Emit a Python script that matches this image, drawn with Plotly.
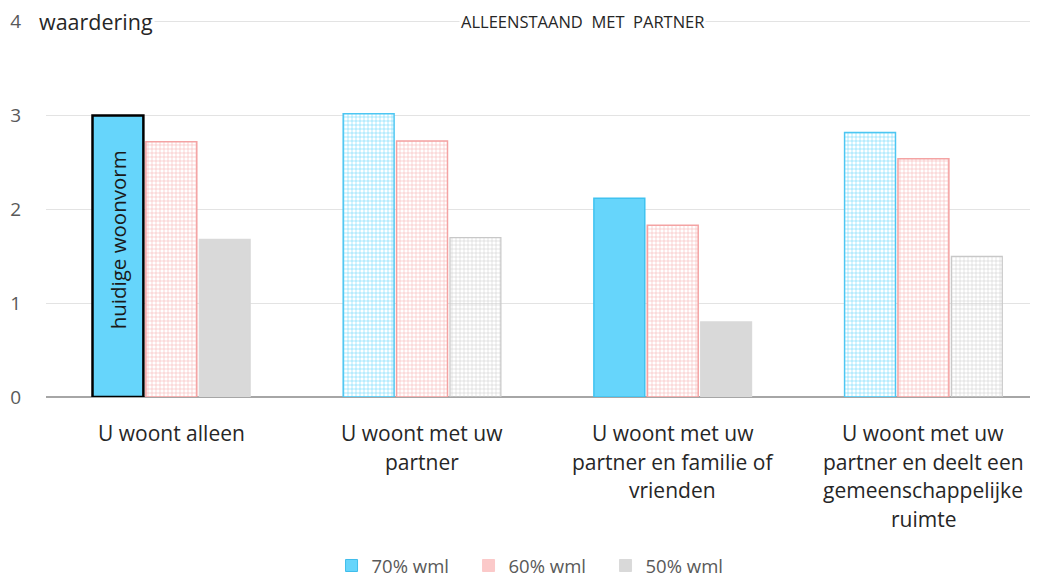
import plotly.graph_objects as go

categories = ["U woont alleen", "U woont met uw partner",
              "U woont met uw partner en familie of vrienden",
              "U woont met uw partner en deelt een gemeenschappelijke ruimte"]
category_lines = [["U woont alleen"],
                  ["U woont met uw", "partner"],
                  ["U woont met uw", "partner en familie of", "vrienden"],
                  ["U woont met uw", "partner en deelt een", "gemeenschappelijke", "ruimte"]]
series_names = ["70% wml", "60% wml", "50% wml"]
values_70 = [3.00, 3.02, 2.12, 2.82]
values_60 = [2.72, 2.73, 1.83, 2.54]
values_50 = [1.68, 1.70, 0.80, 1.50]
y_ticks = [0, 1, 2, 3, 4]

x_idx = list(range(len(categories)))
FONT = "Open Sans"

BLUE = "#66D5FB"
PINK = "#F6B0B0"
GRAY = "#D9D9D9"

fig = go.Figure()

bw = 0.203
offsets = [-0.3145, -0.1015, 0.1115]

# 70% wml
fig.add_trace(go.Bar(
    x=x_idx, y=values_70, name=series_names[0], width=bw, offset=offsets[0],
    showlegend=False,
    marker=dict(
        color=BLUE,
        line=dict(color=["#000000", "#4CC6F2", "#3FC2F0", "#4CC6F2"], width=[2.5, 1.5, 1.5, 1.5]),
        pattern=dict(shape=["", "+", "", "+"], bgcolor="white", size=4, solidity=0.25,
                     fillmode="replace"),
    ),
))
# 60% wml
fig.add_trace(go.Bar(
    x=x_idx, y=values_60, name=series_names[1], width=bw, offset=offsets[1],
    showlegend=False,
    marker=dict(
        color=PINK,
        line=dict(color="#F4A3A3", width=1.5),
        pattern=dict(shape="+", bgcolor="white", size=4, solidity=0.25, fillmode="replace"),
    ),
))
# 50% wml
fig.add_trace(go.Bar(
    x=x_idx, y=values_50, name=series_names[2], width=bw, offset=offsets[2],
    showlegend=False,
    marker=dict(
        color=["#D9D9D9", "#CCCCCC", "#D9D9D9", "#CCCCCC"],
        line=dict(color=["#D9D9D9", "#C8C8C8", "#D9D9D9", "#C8C8C8"], width=1.2),
        pattern=dict(shape=["", "+", "", "+"], bgcolor="white", size=4, solidity=0.25,
                     fillmode="replace"),
    ),
))

# legend entries
legend_fill = [BLUE, "#FBC9C9", GRAY]
legend_line = ["#3FBDEB", "#FBC9C9", GRAY]
for name, fc, lc in zip(series_names, legend_fill, legend_line):
    fig.add_trace(go.Bar(x=[None], y=[None], name=name,
                         marker=dict(color=fc, line=dict(color=lc, width=1))))

annotations = []
# category labels, line by line
for i, lines in enumerate(category_lines):
    for j, line in enumerate(lines):
        annotations.append(dict(x=i, y=0, xref="x", yref="y", text=line, showarrow=False,
                                yanchor="middle", yshift=-36 - 28.7 * j,
                                font=dict(family=FONT, size=21, color="#262626")))

annotations += [
    dict(x=0.0, xref="paper", y=4, yref="y", text="waardering", showarrow=False,
         xanchor="left", yanchor="middle", xshift=-9, bgcolor="white",
         font=dict(family=FONT, size=21.5, color="#262626")),
    dict(x=1.64, xref="x", y=4, yref="y", text="ALLEENSTAAND  MET  PARTNER", showarrow=False,
         xanchor="center", yanchor="middle", bgcolor="white",
         font=dict(family=FONT, size=16.5, color="#262626")),
    dict(x=offsets[0] + bw / 2, xref="x", y=1.68, yref="y", text="huidige woonvorm",
         showarrow=False, textangle=-90,
         font=dict(family=FONT, size=20.5, color="#1a1a1a")),
]

# the page body adds an 8px offset, so the figure is drawn 8px smaller
fig.update_layout(
    width=1030, height=569,
    margin=dict(l=38, r=0, t=11, b=180, autoexpand=False),
    plot_bgcolor="white", paper_bgcolor="white",
    barmode="overlay",
    showlegend=True,
    legend=dict(orientation="h", x=0.495, xanchor="center", y=-0.447, yanchor="middle",
                font=dict(family=FONT, size=18.5, color="#595959"),
                itemwidth=30, entrywidth=92, entrywidthmode="pixels", traceorder="normal"),
    annotations=annotations,
    font=dict(family=FONT),
)
fig.update_xaxes(range=[-0.5, 3.457], showticklabels=False, showgrid=False,
                 showline=False, zeroline=False, fixedrange=True)
fig.update_yaxes(range=[0, 4.03], tickvals=y_ticks, showgrid=True, gridcolor="#E3E3E3",
                 gridwidth=1, zeroline=True, zerolinecolor="#A6A6A6", zerolinewidth=1.6,
                 ticks="", ticklabelstandoff=24,
                 tickfont=dict(family=FONT, size=19, color="#595959"))

fig.write_html("out.html")
